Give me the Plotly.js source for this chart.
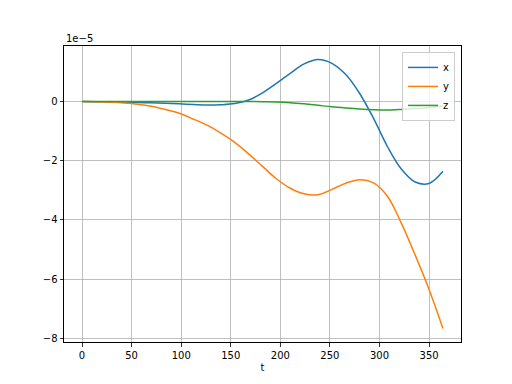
<!DOCTYPE html>
<html>
<head>
<meta charset="utf-8">
<script src="https://cdn.plot.ly/plotly-3.0.1.min.js"></script>
<style>html,body{margin:0;padding:0;background:#fff}#chart{width:512px;height:384px}</style>
</head>
<body>
<div id="chart"></div>
<script>
// time axis (days)
const t = [0,14,28,42,56,70,84,98,112,126,140,154,168,182,196,210,224,238,252,266,280,294,308,322,336,350,364];
// values in units of 1e-5
const xVals = [0,-0.005,-0.012,-0.02,-0.035,-0.045,-0.06,-0.08,-0.10,-0.12,-0.11,-0.07,0.05,0.29,0.61,0.95,1.27,1.42,1.29,0.91,0.27,-0.57,-1.52,-2.28,-2.72,-2.77,-2.36];
const yVals = [0,-0.01,-0.025,-0.05,-0.09,-0.16,-0.27,-0.40,-0.59,-0.80,-1.07,-1.38,-1.77,-2.19,-2.61,-2.93,-3.12,-3.15,-2.97,-2.76,-2.64,-2.75,-3.20,-4.11,-5.19,-6.35,-7.67];
const zVals = [0,0,0,0,0,0,0,0,0,0,0,0,0,-0.008,-0.017,-0.04,-0.08,-0.13,-0.18,-0.22,-0.255,-0.28,-0.29,-0.27,-0.24,-0.20,-0.15];
const SCALE = 1e-5;
const names = ['x','y','z'];
const colors = ['#1f77b4','#ff7f0e','#2ca02c'];
const yTickVals = [-8,-6,-4,-2,0];
const yTickText = ['\u22128','\u22126','\u22124','\u22122','0'];
const xTickVals = [0,50,100,150,200,250,300,350];

const series = [xVals, yVals, zVals];
const traces = series.map((s, i) => ({
  x: t, y: s.map(v => v * SCALE), name: names[i], type: 'scatter', mode: 'lines',
  line: {color: colors[i], width: 1.5, shape: 'spline', smoothing: 1}
}));

const all = series.flat();
const ymin = Math.min(...all), ymax = Math.max(...all);
const yspan = ymax - ymin;
const tmin = Math.min(...t), tmax = Math.max(...t);
const tspan = tmax - tmin;

const font = {family: 'DejaVu Sans, sans-serif', size: 10, color: '#000'};
const layout = {
  width: 512, height: 384,
  margin: {l: 64, r: 51, t: 46, b: 42, pad: 0},
  paper_bgcolor: '#fff', plot_bgcolor: '#fff',
  font: font,
  showlegend: true,
  legend: {x: 0.985, y: 0.98, xanchor: 'right', yanchor: 'top', bgcolor: 'rgba(255,255,255,0.8)',
           bordercolor: '#cccccc', borderwidth: 1, font: font, tracegroupgap: 0},
  xaxis: {
    range: [tmin - 0.05 * tspan, tmax + 0.05 * tspan],
    tickvals: xTickVals, ticks: 'outside', ticklen: 3.5, tickwidth: 0.8, tickcolor: '#000',
    showgrid: true, gridcolor: '#b0b0b0', gridwidth: 0.8, zeroline: false,
    showline: true, linecolor: '#000', linewidth: 1, mirror: true,
    title: {text: 't', font: font, standoff: 4}, tickfont: font
  },
  yaxis: {
    range: [(ymin - 0.05 * yspan) * SCALE, (ymax + 0.05 * yspan) * SCALE],
    tickvals: yTickVals.map(v => v * SCALE), ticktext: yTickText,
    ticks: 'outside', ticklen: 3.5, tickwidth: 0.8, tickcolor: '#000',
    showgrid: true, gridcolor: '#b0b0b0', gridwidth: 0.8, zeroline: false,
    showline: true, linecolor: '#000', linewidth: 1, mirror: true, tickfont: font
  },
  annotations: [{text: '1e\u22125', xref: 'paper', yref: 'paper', x: 0, y: 1,
    xanchor: 'left', yanchor: 'bottom', showarrow: false, font: font, yshift: 0}]
};
Plotly.newPlot('chart', traces, layout, {staticPlot: true, displayModeBar: false});
</script>
</body>
</html>
